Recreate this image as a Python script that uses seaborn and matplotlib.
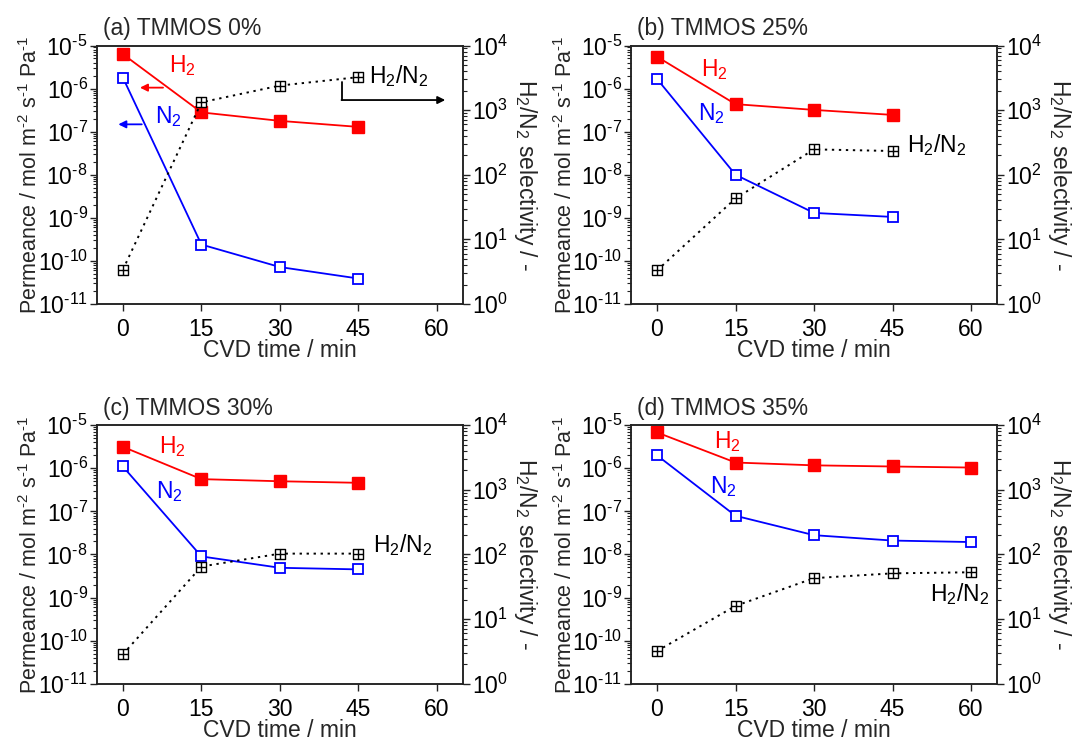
import numpy as np
import pandas as pd
import matplotlib
matplotlib.use("Agg")
import matplotlib.pyplot as plt
from matplotlib.path import Path
from matplotlib.ticker import LogLocator, FuncFormatter, NullFormatter, FixedLocator
import seaborn as sns

# ---------------- data ----------------
titles = ["(a) TMMOS 0%", "(b) TMMOS 25%", "(c) TMMOS 30%", "(d) TMMOS 35%"]

time_a = [0, 15, 30, 45]
h2_a = [6.3e-6, 2.8e-7, 1.78e-7, 1.29e-7]
n2_a = [1.8e-6, 2.4e-10, 7.2e-11, 3.9e-11]
sel_a = [3.4, 1320, 2400, 3240]

time_b = [0, 15, 30, 45]
h2_b = [5.5e-6, 4.35e-7, 3.2e-7, 2.45e-7]
n2_b = [1.68e-6, 1.0e-8, 1.3e-9, 1.05e-9]
sel_b = [3.3, 43, 247, 233]

time_c = [0, 15, 30, 45]
h2_c = [3.15e-6, 5.6e-7, 5.0e-7, 4.6e-7]
n2_c = [1.1e-6, 9.0e-9, 4.9e-9, 4.5e-9]
sel_c = [2.85, 65, 103, 103]

time_d = [0, 15, 30, 45, 60]
h2_d = [6.8e-6, 1.36e-6, 1.17e-6, 1.1e-6, 1.04e-6]
n2_d = [2.0e-6, 7.9e-8, 2.8e-8, 2.1e-8, 1.94e-8]
sel_d = [3.2, 16, 43, 51, 53]

xticks = [0, 15, 30, 45, 60]

# ---------------- style ----------------
sns.set_style("ticks")
plt.rcParams["font.family"] = ["Liberation Sans", "DejaVu Sans"]
plt.rcParams["mathtext.fontset"] = "custom"
plt.rcParams["mathtext.rm"] = "Liberation Sans"
plt.rcParams["mathtext.it"] = "Liberation Sans:italic"
plt.rcParams["mathtext.bf"] = "Liberation Sans:bold"
plt.rcParams["axes.edgecolor"] = "#222222"
plt.rcParams["axes.linewidth"] = 1.1

FS = 16.5
RED = "#ff0000"
BLUE = "#0000ff"
HY = "\u2010"  # short hyphen used in exponents

box_marker = Path(
    [(-1, -1), (1, -1), (1, 1), (-1, 1), (-1, -1), (0, -1), (0, 1), (-1, 0), (1, 0)],
    [Path.MOVETO, Path.LINETO, Path.LINETO, Path.LINETO, Path.CLOSEPOLY,
     Path.MOVETO, Path.LINETO, Path.MOVETO, Path.LINETO],
)

fig = plt.figure(figsize=(10.76, 7.39), dpi=100)

W = 366.5 / 1076
H = 258.5 / 739
positions = [
    (96.7 / 1076, 1 - 304 / 739),
    (630.8 / 1076, 1 - 304 / 739),
    (96.7 / 1076, 1 - 683.7 / 739),
    (630.8 / 1076, 1 - 683.7 / 739),
]

datasets = [
    (time_a, h2_a, n2_a, sel_a),
    (time_b, h2_b, n2_b, sel_b),
    (time_c, h2_c, n2_c, sel_c),
    (time_d, h2_d, n2_d, sel_d),
]

# label positions (axes fraction): H2 text, N2 text, H2/N2 text
label_pos = [
    ((0.196, 0.897), (0.159, 0.699), (0.744, 0.854)),
    ((0.191, 0.882), (0.182, 0.712), (0.753, 0.589)),
    ((0.170, 0.893), (0.163, 0.719), (0.754, 0.508)),
    ((0.227, 0.912), (0.215, 0.738), (0.817, 0.318)),
]


def pow_label(v, pos=None):
    e = int(round(np.log10(v)))
    s = str(e).replace("-", HY)
    return r"$\mathregular{10^{%s}}$" % s


def style_log_axis(axis):
    axis.set_major_locator(LogLocator(base=10, numticks=20))
    axis.set_minor_locator(LogLocator(base=10, subs=np.arange(2, 10), numticks=20))
    axis.set_minor_formatter(NullFormatter())
    axis.set_major_formatter(FuncFormatter(pow_label))


for i, (pos, (t, h2, n2, sel)) in enumerate(zip(positions, datasets)):
    ax = fig.add_axes([pos[0], pos[1], W, H])
    ax2 = ax.twinx()

    df = pd.DataFrame({"t": t, "h2": h2, "n2": n2, "sel": sel})

    sns.lineplot(data=df, x="t", y="h2", ax=ax, color=RED, lw=1.3,
                 marker="s", markersize=8, markerfacecolor=RED,
                 markeredgecolor=RED, markeredgewidth=1.0)
    sns.lineplot(data=df, x="t", y="n2", ax=ax, color=BLUE, lw=1.3,
                 marker="s", markersize=7.5, markerfacecolor="white",
                 markeredgecolor=BLUE, markeredgewidth=1.3)
    sns.lineplot(data=df, x="t", y="sel", ax=ax2, color="black", lw=1.4,
                 linestyle=(0, (1.2, 2.4)),
                 marker=box_marker, markersize=6.5, markerfacecolor="white",
                 markeredgecolor="black", markeredgewidth=1.0)

    ax.set_yscale("log")
    ax2.set_yscale("log")
    ax.set_ylim(1e-11, 1e-5)
    ax2.set_ylim(1, 1e4)
    ax.set_xlim(-5, 65)
    ax.xaxis.set_major_locator(FixedLocator(xticks))
    ax.set_xticklabels([str(v) for v in xticks])

    style_log_axis(ax.yaxis)
    style_log_axis(ax2.yaxis)

    ax.tick_params(axis="both", which="major", labelsize=FS, length=5, width=1.0,
                   direction="out", pad=1.5, colors="#222222", labelcolor="black")
    ax.tick_params(axis="y", which="minor", length=2.6, width=0.8, direction="out",
                   colors="#222222")
    ax.tick_params(axis="x", which="major", pad=5)
    ax2.tick_params(axis="y", which="major", labelsize=FS, length=5, width=1.0,
                    direction="out", pad=1.5, colors="#222222", labelcolor="black")
    ax2.tick_params(axis="y", which="minor", length=2.6, width=0.8, direction="out",
                    colors="#222222")

    for a in (ax, ax2):
        for s in a.spines.values():
            s.set_visible(True)
            s.set_color("#222222")
            s.set_linewidth(1.1)

    ax.set_xlabel("CVD time / min", fontsize=FS)
    ax.xaxis.set_label_coords(0.5, -0.135)
    ax.set_ylabel(r"Permeance / mol m$^{%s2}$ s$^{%s1}$ Pa$^{%s1}$" % (HY, HY, HY),
                  fontsize=15.5)
    ax.yaxis.set_label_coords(-0.148, 0.5)
    ax2.set_ylabel(r"H$_2$/N$_2$ selectivity / -", fontsize=FS, rotation=-90,
                   va="center")
    ax2.yaxis.set_label_coords(1.171, 0.5)

    ax.text(0.017, 1.04, titles[i], transform=ax.transAxes, fontsize=FS,
            ha="left", va="baseline")

    (hx, hy), (nx, ny), (sx, sy) = label_pos[i]
    ax.text(hx, hy, r"H$_2$", transform=ax.transAxes, color=RED, fontsize=FS,
            ha="left", va="baseline")
    ax.text(nx, ny, r"N$_2$", transform=ax.transAxes, color=BLUE, fontsize=FS,
            ha="left", va="baseline")
    ax.text(sx, sy, r"H$_2$/N$_2$", transform=ax.transAxes, color="black",
            fontsize=FS, ha="left", va="baseline")

    if i == 0:
        ax.annotate("", xy=(0.118, 0.837), xytext=(0.181, 0.837),
                    xycoords="axes fraction",
                    arrowprops=dict(arrowstyle="-|>", color=RED, lw=1.3,
                                    mutation_scale=11, shrinkA=0, shrinkB=0))
        ax.annotate("", xy=(0.059, 0.695), xytext=(0.123, 0.695),
                    xycoords="axes fraction",
                    arrowprops=dict(arrowstyle="-|>", color=BLUE, lw=1.3,
                                    mutation_scale=11, shrinkA=0, shrinkB=0))
        ax.plot([0.668, 0.668], [0.86, 0.789], transform=ax.transAxes,
                color="black", lw=1.3, clip_on=False)
        ax.annotate("", xy=(0.951, 0.789), xytext=(0.668, 0.789),
                    xycoords="axes fraction",
                    arrowprops=dict(arrowstyle="-|>", color="black", lw=1.3,
                                    mutation_scale=11, shrinkA=0, shrinkB=0))

fig.savefig("out.png", dpi=100)
